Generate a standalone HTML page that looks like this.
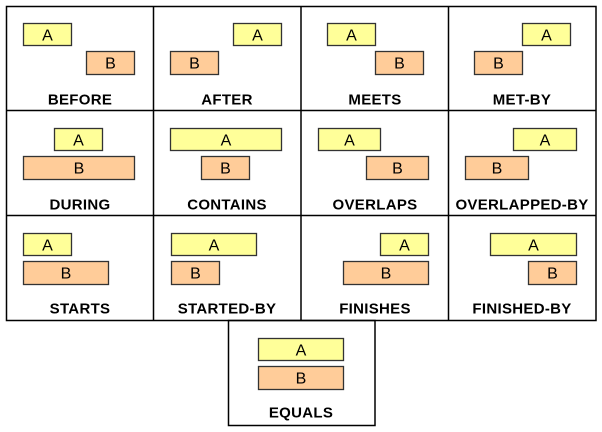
<!DOCTYPE html>
<html><head><style>html,body{margin:0;padding:0;background:#fff}svg{display:block}</style></head>
<body>
<svg width="602" height="432" viewBox="0 0 602 432" xmlns="http://www.w3.org/2000/svg" font-family="Liberation Sans, sans-serif">
<g fill="none" stroke="#000" stroke-width="1.5">
<rect x="6.5" y="6.5" width="589.5" height="314"/>
<line x1="153.5" y1="6" x2="153.5" y2="321"/>
<line x1="301" y1="6" x2="301" y2="321"/>
<line x1="448.5" y1="6" x2="448.5" y2="321"/>
<line x1="6" y1="110.5" x2="596" y2="110.5"/>
<line x1="6" y1="215.5" x2="596" y2="215.5"/>
<rect x="228.5" y="320.5" width="146.5" height="105"/>
</g>
<g stroke="#333" stroke-width="1.3">
<g fill="#ffff99">
<rect x="23.5" y="23.5" width="48" height="22"/>
<rect x="233.5" y="23.5" width="48" height="22"/>
<rect x="327.5" y="23.5" width="48" height="22"/>
<rect x="522.5" y="23.5" width="48" height="22"/>
<rect x="54.5" y="128.5" width="48" height="22"/>
<rect x="170.5" y="128.5" width="111" height="22"/>
<rect x="318.5" y="128.5" width="62" height="22"/>
<rect x="513.5" y="128.5" width="63" height="22"/>
<rect x="23.5" y="233.5" width="48" height="22"/>
<rect x="171.5" y="233.5" width="85" height="22"/>
<rect x="380.5" y="233.5" width="48" height="22"/>
<rect x="490.5" y="233.5" width="86" height="22"/>
<rect x="258.5" y="338.5" width="85" height="22"/>
</g>
<g fill="#ffcc99">
<rect x="86.5" y="51.5" width="48" height="23"/>
<rect x="170.5" y="51.5" width="48" height="23"/>
<rect x="375.5" y="51.5" width="48" height="23"/>
<rect x="474.5" y="51.5" width="48" height="23"/>
<rect x="23.5" y="156.5" width="111" height="23"/>
<rect x="201.5" y="156.5" width="48" height="23"/>
<rect x="366.5" y="156.5" width="62" height="23"/>
<rect x="465.5" y="156.5" width="63" height="23"/>
<rect x="23.5" y="261.5" width="85" height="23"/>
<rect x="171.5" y="261.5" width="48" height="23"/>
<rect x="343.5" y="261.5" width="85" height="23"/>
<rect x="528.5" y="261.5" width="48" height="23"/>
<rect x="258.5" y="366.5" width="85" height="23"/>
</g>
</g>
<g font-size="16" text-anchor="middle" fill="#000">
<text x="47.5" y="40.5">A</text><text x="257.5" y="40.5">A</text><text x="351.5" y="40.5">A</text><text x="546.5" y="40.5">A</text>
<text x="110.5" y="68.5">B</text><text x="194.5" y="68.5">B</text><text x="399.5" y="68.5">B</text><text x="498.5" y="68.5">B</text>
<text x="78.5" y="145.5">A</text><text x="226" y="145.5">A</text><text x="349.5" y="145.5">A</text><text x="545" y="145.5">A</text>
<text x="79" y="173.5">B</text><text x="225.5" y="173.5">B</text><text x="397.5" y="173.5">B</text><text x="497" y="173.5">B</text>
<text x="47.5" y="250.5">A</text><text x="214" y="250.5">A</text><text x="404.5" y="250.5">A</text><text x="533.5" y="250.5">A</text>
<text x="66" y="278.5">B</text><text x="195.5" y="278.5">B</text><text x="386" y="278.5">B</text><text x="552.5" y="278.5">B</text>
<text x="301" y="355.5">A</text><text x="301" y="383.5">B</text>
</g>
<g font-size="15" font-weight="bold" text-anchor="middle" fill="#000" letter-spacing="0.3">
<text x="80" y="104.5">BEFORE</text><text x="227" y="104.5">AFTER</text><text x="375" y="104.5">MEETS</text><text x="522" y="104.5">MET-BY</text>
<text x="80" y="209.5">DURING</text><text x="227" y="209.5">CONTAINS</text><text x="375" y="209.5">OVERLAPS</text><text x="522" y="209.5">OVERLAPPED-BY</text>
<text x="80" y="313.5">STARTS</text><text x="227" y="313.5">STARTED-BY</text><text x="375" y="313.5">FINISHES</text><text x="522" y="313.5">FINISHED-BY</text>
<text x="301" y="417.5">EQUALS</text>
</g>
</svg>
</body></html>
